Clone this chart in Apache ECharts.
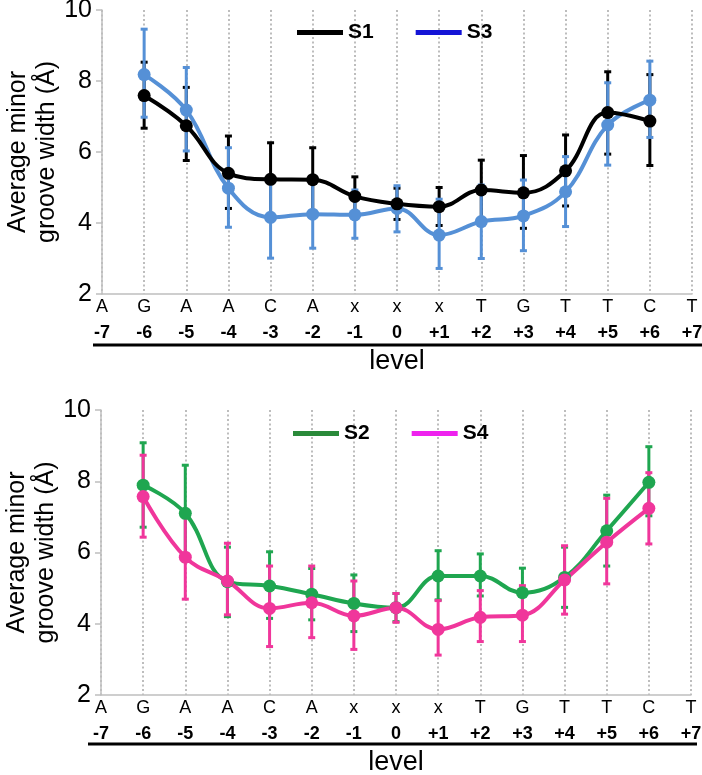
<!DOCTYPE html>
<html>
<head>
<meta charset="utf-8">
<script src="https://cdn.jsdelivr.net/npm/echarts@6/dist/echarts.min.js"></script>
<style>
html,body{margin:0;padding:0;background:#fff;}
#c{width:702px;height:775px;}
</style>
</head>
<body>
<div id="c"></div>
<script>
// ---- data ----
const bases  = ['A','G','A','A','C','A','x','x','x','T','G','T','T','C','T'];
const levels = ['-7','-6','-5','-4','-3','-2','-1','0','+1','+2','+3','+4','+5','+6','+7'];
const yTicks = [2, 4, 6, 8, 10];

const S1     = [null, 7.59, 6.74, 5.40, 5.23, 5.22, 4.75, 4.54, 4.46, 4.93, 4.85, 5.47, 7.11, 6.87, null];
const S1Low  = [null, 6.67, 5.76, 4.41, 4.20, 4.32, 4.22, 4.10, 3.93, 4.09, 3.85, 4.48, 5.94, 5.62, null];
const S1High = [null, 8.53, 7.82, 6.45, 6.26, 6.12, 5.30, 4.98, 5.00, 5.77, 5.90, 6.48, 8.26, 8.18, null];

const S3     = [null, 8.18, 7.18, 4.98, 4.16, 4.25, 4.23, 4.41, 3.66, 4.04, 4.20, 4.88, 6.76, 7.46, null];
const S3Low  = [null, 6.98, 6.03, 3.88, 3.01, 3.29, 3.57, 3.75, 2.72, 3.00, 3.22, 3.90, 5.63, 6.41, null];
const S3High = [null, 9.46, 8.38, 6.12, 5.31, 5.21, 4.93, 5.05, 4.67, 5.07, 5.21, 5.87, 7.95, 8.56, null];

const S2     = [null, 7.89, 7.10, 5.18, 5.06, 4.83, 4.57, 4.45, 5.34, 5.34, 4.87, 5.30, 6.61, 7.97, null];
const S2Low  = [null, 6.71, 5.75, 4.20, 4.15, 4.11, 3.78, 4.06, 4.67, 4.78, 4.20, 4.46, 5.62, 7.03, null];
const S2High = [null, 9.08, 8.45, 6.15, 6.02, 5.55, 5.37, 4.85, 6.05, 5.96, 5.56, 6.15, 7.61, 8.97, null];

const S4     = [null, 7.57, 5.87, 5.20, 4.43, 4.59, 4.22, 4.45, 3.84, 4.18, 4.24, 5.23, 6.29, 7.24, null];
const S4Low  = [null, 6.43, 4.69, 4.25, 3.36, 3.61, 3.28, 4.04, 3.12, 3.50, 3.50, 4.27, 5.12, 6.24, null];
const S4High = [null, 8.73, 7.05, 6.26, 5.62, 5.62, 5.20, 4.85, 4.65, 4.93, 5.07, 6.19, 7.52, 8.24, null];

// ---- styling ----
const FONT = "'Liberation Sans', Arial, sans-serif";
const C1 = '#000000', C3 = '#5590d6', C2 = '#1fa650', C4 = '#f0369b';
const L1 = '#000000', L3 = '#1414d6', L2 = '#2a8a3a', L4 = '#ee22ee';

const catLabels = bases.map((b, i) => b + '\n' + levels[i]);

function errRows(lo, hi) {
  const rows = [];
  for (let i = 0; i < lo.length; i++) {
    if (lo[i] != null && hi[i] != null) rows.push([i, lo[i], hi[i]]);
  }
  return rows;
}

function errSeries(name, color, lo, hi, gi) {
  return {
    name: name, type: 'custom', xAxisIndex: gi, yAxisIndex: gi,
    data: errRows(lo, hi), encode: {x: 0, y: [1, 2]}, silent: true,
    renderItem: function (params, api) {
      const x = api.value(0);
      const p1 = api.coord([x, api.value(1)]);
      const p2 = api.coord([x, api.value(2)]);
      const cw = 3.5;
      const st = {stroke: color, lineWidth: 3};
      return {type: 'group', children: [
        {type: 'line', shape: {x1: p1[0], y1: p1[1], x2: p2[0], y2: p2[1]}, style: st},
        {type: 'line', shape: {x1: p1[0] - cw, y1: p1[1], x2: p1[0] + cw, y2: p1[1]}, style: st},
        {type: 'line', shape: {x1: p2[0] - cw, y1: p2[1], x2: p2[0] + cw, y2: p2[1]}, style: st}
      ]};
    }
  };
}

function lineSeries(name, color, data, gi) {
  return {
    name: name, type: 'line', xAxisIndex: gi, yAxisIndex: gi, data: data,
    smooth: 0.4, symbol: 'circle', symbolSize: 13, showSymbol: true,
    lineStyle: {color: color, width: 4}, itemStyle: {color: color},
    emphasis: {disabled: true}, silent: true
  };
}

function xAxisCfg(gi) {
  return {
    type: 'category', gridIndex: gi, data: catLabels, boundaryGap: false,
    axisLine: {lineStyle: {color: '#bfbfbf', width: 1.5}},
    axisTick: {show: false},
    splitLine: {show: true, lineStyle: {color: '#a8a8a8', width: 1.5, type: [2, 2.5]}},
    axisLabel: {
      interval: 0, margin: 2, color: '#000', fontFamily: FONT, hideOverlap: false,
      formatter: function (v) { const p = v.split('\n'); return '{a|' + p[0] + '}\n{b|' + p[1] + '}'; },
      rich: {
        a: {fontSize: 18, fontFamily: FONT, color: '#000', lineHeight: 22},
        b: {fontSize: 18, fontFamily: FONT, fontWeight: 'bold', color: '#000', lineHeight: 30}
      }
    },
    name: 'level', nameLocation: 'middle', nameGap: 54, nameMoveOverlap: false,
    nameTextStyle: {fontSize: 27, fontFamily: FONT, color: '#000'}
  };
}

function yAxisCfg(gi) {
  return {
    type: 'value', gridIndex: gi, min: yTicks[0], max: yTicks[yTicks.length - 1], interval: 2,
    axisLine: {show: true, lineStyle: {color: '#bfbfbf', width: 1.5}},
    axisTick: {show: true, length: 6, lineStyle: {color: '#bfbfbf', width: 1.5}},
    splitLine: {show: false},
    axisLabel: {fontSize: 25, fontFamily: FONT, color: '#000', margin: 10},
    name: 'Average minor\ngroove width (Å)', nameLocation: 'middle', nameRotate: 90, nameGap: 40,
    nameMoveOverlap: false,
    nameTextStyle: {fontSize: 25, fontFamily: FONT, color: '#000', lineHeight: 29}
  };
}

function legendCfg(left, top, items) {
  return {
    left: left, top: top, icon: 'rect', itemWidth: 46, itemHeight: 5, itemGap: 42,
    selectedMode: false, inactiveColor: '#000', padding: 0,
    textStyle: {fontSize: 21, fontWeight: 'bold', fontFamily: FONT, color: '#000'},
    data: items.map(it => ({name: it[0], itemStyle: {color: it[1], borderWidth: 0}}))
  };
}

const chart = echarts.init(document.getElementById('c'), null, {renderer: 'canvas'});
chart.setOption({
  animation: false,
  backgroundColor: '#fff',
  grid: [
    {left: 102, top: 10, width: 590, height: 284, containLabel: false, outerBoundsMode: 'none'},
    {left: 101, top: 410, width: 590, height: 285, containLabel: false, outerBoundsMode: 'none'}
  ],
  xAxis: [xAxisCfg(0), xAxisCfg(1)],
  yAxis: [yAxisCfg(0), yAxisCfg(1)],
  legend: [
    legendCfg(297, 22, [['S1', L1], ['S3', L3]]),
    legendCfg(293, 423, [['S2', L2], ['S4', L4]])
  ],
  graphic: [
    {type: 'line', shape: {x1: 93, y1: 345, x2: 702, y2: 345}, style: {stroke: '#000', lineWidth: 3}},
    {type: 'line', shape: {x1: 88, y1: 744, x2: 697, y2: 744}, style: {stroke: '#000', lineWidth: 3}}
  ],
  series: [
    errSeries('S1 err', C1, S1Low, S1High, 0),
    errSeries('S3 err', C3, S3Low, S3High, 0),
    lineSeries('S3', C3, S3, 0),
    lineSeries('S1', C1, S1, 0),
    errSeries('S2 err', C2, S2Low, S2High, 1),
    errSeries('S4 err', C4, S4Low, S4High, 1),
    lineSeries('S2', C2, S2, 1),
    lineSeries('S4', C4, S4, 1)
  ]
});
</script>
</body>
</html>
